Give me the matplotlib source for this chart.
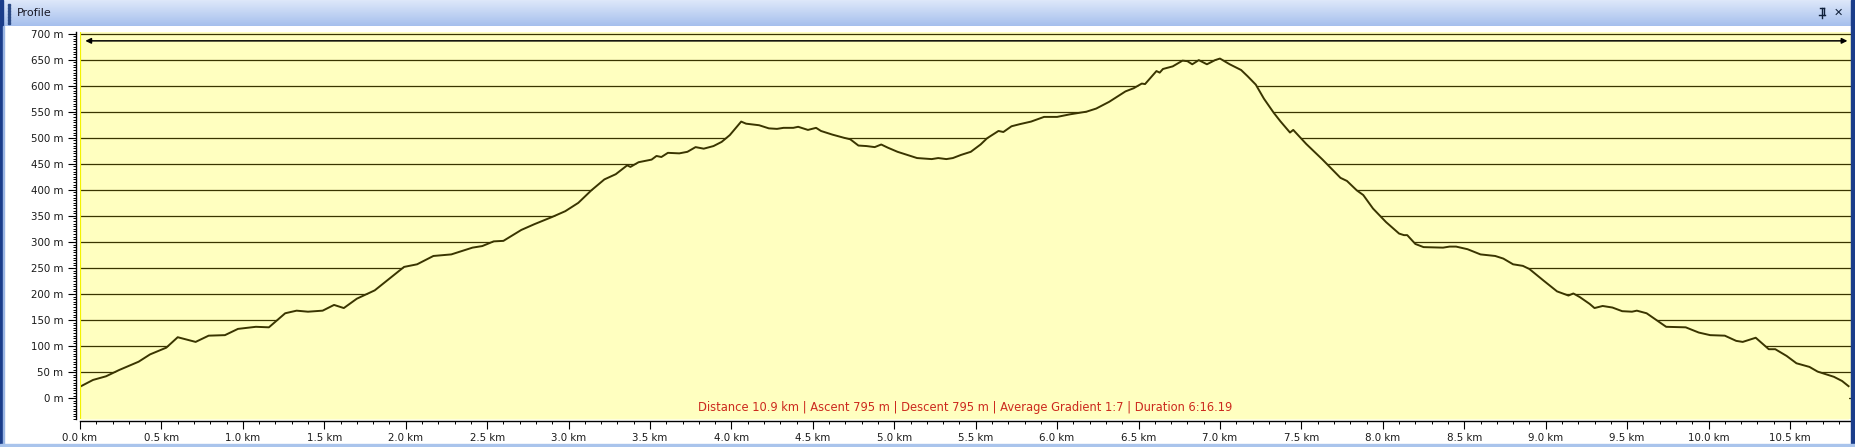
import numpy as np
import matplotlib
matplotlib.use("Agg")
import matplotlib.pyplot as plt
from matplotlib.patches import Rectangle
from matplotlib.ticker import MultipleLocator, FuncFormatter

# ---- data ----
distance_km = [0.00, 0.08, 0.16, 0.24, 0.36, 0.43, 0.53, 0.60, 0.71, 0.79, 0.89, 0.97,
               1.08, 1.16, 1.26, 1.33, 1.40, 1.49, 1.56, 1.62, 1.70, 1.81, 1.87, 1.99,
               2.07, 2.17, 2.28, 2.41, 2.47, 2.54, 2.60, 2.71, 2.79, 2.90, 2.98, 3.06,
               3.14, 3.22, 3.29, 3.36, 3.38, 3.43, 3.51, 3.54, 3.57, 3.61, 3.68, 3.73,
               3.78, 3.83, 3.89, 3.94, 3.99, 4.06, 4.09, 4.17, 4.23, 4.28, 4.32, 4.38,
               4.41, 4.47, 4.52, 4.55, 4.62, 4.69, 4.73, 4.78, 4.83, 4.88, 4.92, 4.96,
               5.02, 5.08, 5.14, 5.23, 5.27, 5.32, 5.36, 5.41, 5.47, 5.53, 5.57, 5.64,
               5.67, 5.72, 5.77, 5.84, 5.92, 6.00, 6.08, 6.18, 6.24, 6.32, 6.42, 6.47,
               6.52, 6.54, 6.61, 6.63, 6.65, 6.71, 6.77, 6.80, 6.83, 6.87, 6.92, 6.97,
               7.00, 7.06, 7.13, 7.17, 7.22, 7.27, 7.33, 7.37, 7.43, 7.45, 7.53, 7.63,
               7.74, 7.78, 7.84, 7.88, 7.94, 8.02, 8.10, 8.13, 8.15, 8.20, 8.25, 8.37,
               8.41, 8.45, 8.52, 8.60, 8.69, 8.74, 8.80, 8.86, 8.90, 8.99, 9.07, 9.14,
               9.17, 9.21, 9.27, 9.30, 9.35, 9.41, 9.47, 9.53, 9.56, 9.62, 9.68, 9.74,
               9.86, 9.94, 10.01, 10.10, 10.17, 10.21, 10.29, 10.37, 10.41, 10.48, 10.54,
               10.62, 10.67, 10.77, 10.82, 10.86]
elevation_m = [22, 35, 42, 54, 70, 84, 97, 117, 108, 120, 121, 133,
               137, 136, 163, 168, 166, 168, 179, 173, 191, 207, 222, 252,
               257, 273, 276, 289, 292, 301, 302, 323, 334, 348, 359, 375,
               399, 420, 430, 447, 444, 453, 458, 465, 463, 471, 470, 473,
               482, 479, 484, 492, 505, 531, 527, 524, 518, 517, 519, 519,
               521, 515, 519, 513, 506, 500, 497, 485, 484, 482, 487, 481,
               473, 467, 461, 459, 461, 459, 461, 467, 473, 487, 499, 513,
               511, 522, 526, 531, 540, 540, 545, 550, 556, 569, 589, 595,
               604, 603, 628, 625, 632, 637, 648, 647, 641, 649, 641, 649,
               652, 641, 630, 618, 602, 575, 548, 532, 510, 515, 488, 458,
               423, 417, 399, 390, 364, 338, 316, 313, 313, 296, 290, 289,
               291, 291, 286, 276, 273, 268, 257, 254, 248, 225, 205, 197,
               201, 194, 181, 173, 177, 174, 167, 166, 168, 163, 150, 137,
               136, 126, 121, 120, 110, 108, 116, 94, 94, 81, 67,
               60, 51, 41, 33, 23]
x_ticks = [0.0, 0.5, 1.0, 1.5, 2.0, 2.5, 3.0, 3.5, 4.0, 4.5, 5.0, 5.5, 6.0, 6.5,
           7.0, 7.5, 8.0, 8.5, 9.0, 9.5, 10.0, 10.5]
y_ticks = list(range(0, 701, 50))
summary = "Distance 10.9 km | Ascent 795 m | Descent 795 m | Average Gradient 1:7 | Duration 6:16.19"
panel_title = "Profile"

# ---- figure ----
W, H = 1855, 447
fig = plt.figure(figsize=(W / 100, H / 100), dpi=100)
fig.patch.set_facecolor("white")

def fx(px):
    return px / W

def fy(py):
    return 1 - py / H

# title bar gradient
tb = fig.add_axes([0, fy(26), 1, 26 / H], zorder=0)
grad = np.linspace(0, 1, 64).reshape(-1, 1)
top_c = np.array([0.87, 0.91, 0.98])
bot_c = np.array([0.65, 0.75, 0.93])
img = top_c[None, None, :] * (1 - grad[:, :, None]) + bot_c[None, None, :] * grad[:, :, None]
tb.imshow(img, aspect="auto", extent=[0, 1, 0, 1])
tb.set_xlim(0, 1); tb.set_ylim(0, 1)
tb.axis("off")
# grip dots
for yy in np.arange(4, 24, 3):
    fig.patches.append(Rectangle((fx(8), fy(yy + 1.5)), 1.5 / W, 1.5 / H,
                                 transform=fig.transFigure, color="#2b4a86", zorder=5))
fig.text(fx(17), fy(13.5), panel_title, fontsize=8, color="#1a1a28",
         va="center", ha="left", family="DejaVu Sans", zorder=6)
fig.text(fx(1838), fy(13), "\u2715", fontsize=8, color="#10203a", fontweight="bold",
         va="center", ha="center", family="DejaVu Sans", zorder=6)
# pin icon
fig.lines.append(plt.Line2D([fx(1822), fx(1822)], [fy(8), fy(18)], transform=fig.transFigure,
                            color="#10203a", lw=1.0, zorder=6))
fig.lines.append(plt.Line2D([fx(1819), fx(1825)], [fy(15), fy(15)], transform=fig.transFigure,
                            color="#10203a", lw=1.0, zorder=6))
fig.lines.append(plt.Line2D([fx(1820), fx(1824)], [fy(8), fy(8)], transform=fig.transFigure,
                            color="#10203a", lw=1.0, zorder=6))
fig.lines.append(plt.Line2D([fx(1824), fx(1824)], [fy(8), fy(15)], transform=fig.transFigure,
                            color="#10203a", lw=1.0, zorder=6))

# borders
fig.patches.append(Rectangle((0, 0), fx(3), 1, transform=fig.transFigure,
                             color="#1b3d8a", zorder=7))
fig.patches.append(Rectangle((fx(3), 0), fx(1.2), fy(26), transform=fig.transFigure,
                             color="#9ab6e4", zorder=7))
fig.patches.append(Rectangle((fx(1851), 0), fx(4), 1, transform=fig.transFigure,
                             color="#1b3d8a", zorder=7))
fig.patches.append(Rectangle((0, 0), 1, 3.5 / H, transform=fig.transFigure,
                             color="#a9c4ec", zorder=7))

# ---- main axes ----
yellow = "#ffffc0"
olive = "#3a3500"
ax = fig.add_axes([fx(80), fy(419), fx(1851) - fx(80), fy(32) - fy(419)], zorder=2)
ax.set_facecolor(yellow)
ax.set_xlim(0, 10.875)
ax.set_ylim(-40, 703)

for v in y_ticks:
    ax.axhline(v, color=olive, lw=0.9, zorder=1)
ax.fill_between(distance_km, elevation_m, -40, color=yellow, lw=0, zorder=2)
ax.plot(distance_km, elevation_m, color=olive, lw=1.4, zorder=3, solid_joinstyle="round")
ax.axvline(0, color="#f2f200", lw=1.6, zorder=4)

ax.annotate("", xy=(0.998, 686), xytext=(0.003, 686),
            xycoords=("axes fraction", "data"),
            arrowprops=dict(arrowstyle="<|-|>", color="black", lw=1.1,
                            mutation_scale=8, shrinkA=0, shrinkB=0), zorder=5)

ax.text(0.5, 0.031, summary, transform=ax.transAxes, ha="center", va="center",
        fontsize=8.3, color="#cc2a1e", family="DejaVu Sans", zorder=5)

for s in ["top", "right"]:
    ax.spines[s].set_visible(False)
ax.spines["left"].set_position(("outward", 3))
ax.spines["bottom"].set_position(("outward", 1.5))
ax.spines["left"].set_color("black")
ax.spines["bottom"].set_color("black")
ax.spines["left"].set_linewidth(1.0)
ax.spines["bottom"].set_linewidth(1.0)

ax.set_xticks(x_ticks)
ax.set_yticks(y_ticks)
ax.xaxis.set_minor_locator(MultipleLocator(0.1))
ax.yaxis.set_minor_locator(MultipleLocator(5))
ax.xaxis.set_major_formatter(FuncFormatter(lambda v, p: f"{v:.1f} km"))
ax.yaxis.set_major_formatter(FuncFormatter(lambda v, p: f"{v:.0f} m"))
ax.tick_params(axis="both", which="major", direction="out", length=5.5, width=0.8,
               color="black", labelsize=7.4, labelcolor="#1a1a1a", pad=3.5)
ax.tick_params(axis="both", which="minor", direction="out", length=2.5, width=0.7,
               color="black")
ax.tick_params(axis="x", which="major", pad=3)
for lab in ax.get_xticklabels() + ax.get_yticklabels():
    lab.set_family("DejaVu Sans")

fig.savefig("out.png", dpi=100, facecolor=fig.get_facecolor())
